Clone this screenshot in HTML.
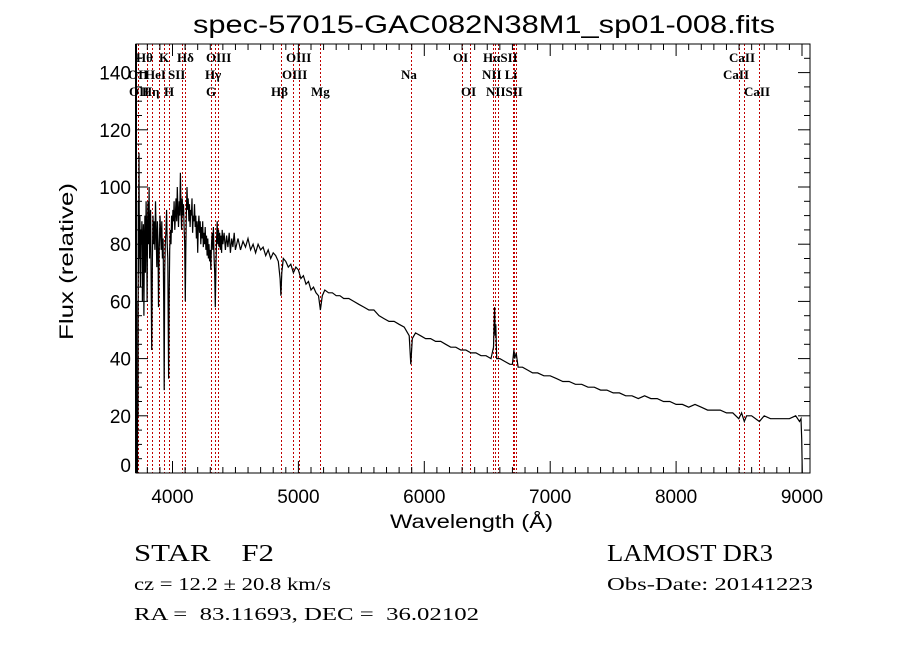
<!DOCTYPE html>
<html><head><meta charset="utf-8"><style>
html,body{margin:0;padding:0;background:#fff;}
svg{display:block;}
.ax{font-family:"Liberation Sans",sans-serif;font-size:19px;fill:#000;}
.ln{font-family:"Liberation Serif",serif;font-size:13px;font-weight:bold;fill:#000;}
.bt{font-family:"Liberation Serif",serif;fill:#000;white-space:pre;}
</style></head><body>
<svg id="chart" width="900" height="649" viewBox="0 0 900 649" xmlns="http://www.w3.org/2000/svg" xml:space="preserve">
<rect width="900" height="649" fill="#fff"/>
<text x="193" y="33" class="ax" style="font-size:25px" textLength="582" lengthAdjust="spacingAndGlyphs">spec-57015-GAC082N38M1_sp01-008.fits</text>
<g id="lines"></g>
<g id="labels"></g>
<g id="axes"></g>
<path id="spec" fill="none" stroke="#000" stroke-width="1.2"/>
<rect x="136" y="44" width="674" height="429" fill="none" stroke="#000" stroke-width="1"/>
<line x1="136" y1="44" x2="136" y2="473" stroke="#000" stroke-width="2"/>
<text x="390" y="528" class="ax" textLength="163" lengthAdjust="spacingAndGlyphs">Wavelength (Å)</text>
<text x="0" y="0" transform="translate(73,340) rotate(-90)" class="ax" textLength="157" lengthAdjust="spacingAndGlyphs">Flux (relative)</text>
<text x="134" y="561" class="bt" style="font-size:24px" textLength="140" lengthAdjust="spacingAndGlyphs">STAR    F2</text>
<text x="134" y="590" class="bt" style="font-size:18px" textLength="197" lengthAdjust="spacingAndGlyphs">cz = 12.2 ± 20.8 km/s</text>
<text x="134" y="620" class="bt" style="font-size:18px" textLength="345" lengthAdjust="spacingAndGlyphs">RA =  83.11693, DEC =  36.02102</text>
<text x="607" y="561" class="bt" style="font-size:24px" textLength="166" lengthAdjust="spacingAndGlyphs">LAMOST DR3</text>
<text x="607" y="590" class="bt" style="font-size:18px" textLength="206" lengthAdjust="spacingAndGlyphs">Obs-Date: 20141223</text>
</svg>
<script>
const wave=[3722,3724,3726,3728,3731,3734,3737,3741,3745,3749,3753,3757,3761,3765,3769,3773,3777,3781,3785,3790,3794,3798,3802,3806,3810,3814,3818,3822,3826,3830,3835,3840,3845,3850,3855,3860,3865,3870,3875,3880,3885,3889,3893,3897,3901,3905,3910,3915,3920,3925,3930,3934,3938,3943,3948,3953,3958,3963,3969,3973,3978,3983,3988,3993,3998,4003,4008,4013,4018,4023,4028,4033,4038,4043,4048,4053,4058,4063,4068,4072,4077,4082,4087,4092,4097,4102,4106,4110,4115,4120,4125,4130,4135,4140,4145,4150,4155,4160,4165,4170,4175,4180,4185,4190,4195,4200,4205,4210,4215,4220,4225,4230,4235,4240,4245,4250,4255,4260,4265,4270,4275,4280,4285,4290,4295,4300,4304,4310,4315,4320,4325,4330,4335,4340,4345,4350,4355,4360,4365,4370,4375,4380,4385,4390,4395,4400,4410,4420,4430,4440,4450,4460,4470,4480,4490,4500,4520,4540,4560,4580,4600,4620,4640,4660,4680,4700,4720,4740,4760,4780,4800,4820,4840,4855,4861,4868,4880,4900,4920,4940,4960,4980,5000,5020,5040,5060,5080,5100,5120,5140,5160,5175,5190,5210,5240,5270,5300,5330,5360,5400,5440,5480,5520,5560,5600,5640,5680,5720,5760,5800,5840,5880,5893,5905,5930,5970,6010,6050,6090,6130,6170,6210,6250,6290,6330,6370,6410,6450,6490,6530,6550,6558,6563,6568,6575,6600,6640,6680,6700,6712,6718,6730,6745,6780,6820,6860,6900,6950,7000,7050,7100,7150,7200,7250,7300,7350,7400,7450,7500,7550,7600,7650,7700,7750,7800,7850,7900,7950,8000,8050,8100,8150,8200,8250,8300,8350,8400,8450,8498,8520,8542,8560,8600,8662,8700,8750,8800,8850,8900,8950,8980,8992,8998,9002];
const flux=[0,60,20,95,70,112,75,90,65,85,80,88,60,82,87,55,80,90,70,95,85,60,88,95,80,100,75,85,92,70,43,75,90,80,88,78,95,85,72,88,80,58,75,82,90,85,78,88,75,82,60,29,70,80,85,92,80,75,33,60,78,85,80,90,84,92,88,95,85,90,96,88,100,92,86,95,90,105,92,85,96,90,94,86,80,60,78,90,100,92,96,88,94,86,92,90,96,84,90,88,94,86,90,82,88,77,86,90,84,88,80,86,82,88,79,84,80,86,78,83,76,82,75,80,74,78,71,80,84,78,86,76,70,58,72,82,88,80,85,79,84,78,83,77,85,80,84,78,83,79,84,77,82,79,84,78,82,78,81,79,82,78,80,77,80,78,79,76,78,75,77,76,74,68,62,70,75,74,72,73,70,72,71,68,69,66,67,64,65,63,62,57,62,64,63,63,62,62,61,61,60,59,58,57,57,55,54,53,53,52,51,48,38,47,49,48,47,47,46,46,45,44,44,43,43,42,42,41,41,40,44,58,48,52,40,40,39,38,38,43,40,42,37,37,36,35,35,34,34,33,32,32,31,31,30,30,29,29,28,28,27,27,26,27,26,26,25,25,24,24,23,24,23,22,22,22,21,21,19,21,18,20,20,18,20,19,19,19,19,20,18,19,12,0];
const lineWaves=[3727,3798,3835,3889,3934,3969,4072,4102,4304,4340,4363,4861,4959,5007,5175,5893,6300,6364,6548,6563,6583,6708,6716,6731,8498,8542,8662];
const labelText=["Hθ","K","Hδ","OIII","OIII","OI","HαSII","CaII","OII","HeI","SII","Hγ","OIII","Na","NII Li","CaII","OII","Hη","H","G","Hβ","Mg","OI","NIISII","CaII"];
const labelX=[136,159,177,206,286,453,483,729,128,145,168,205,282,401,482,723,129,142,164,206,271,311,461,486,744];
const labelRow=[0,0,0,0,0,0,0,0,1,1,1,1,1,1,1,1,2,2,2,2,2,2,2,2,2];
const xTicks=[4000,5000,6000,7000,8000,9000];
const yTicks=[0,20,40,60,80,100,120,140];
const X0=136,X1=810,Y0=473,Y1=44;
const xs=l=>172.5+(l-4000)*0.1259;
const ys=f=>Y0-(f-0)*(Y0-Y1)/150;
const NS="http://www.w3.org/2000/svg";
function mk(t,a,p){const e=document.createElementNS(NS,t);for(const k in a)e.setAttribute(k,a[k]);p.appendChild(e);return e;}
let d="";const n=Math.min(wave.length,flux.length);
for(let i=0;i<n;i++){d+=(i?"L":"M")+xs(wave[i]).toFixed(1)+","+ys(flux[i]).toFixed(1);}
document.getElementById("spec").setAttribute("d",d);
const gl=document.getElementById("lines");
lineWaves.forEach((w,i)=>{const x=Math.round(xs(w))+0.5;const e=mk("line",{x1:x,x2:x,y1:Y1,y2:Y0,stroke:"#c00000","stroke-width":1,"stroke-dasharray":"2,2"},gl);

});
const gb=document.getElementById("labels");
labelText.forEach((t,i)=>{const e=mk("text",{x:labelX[i],y:62+labelRow[i]*17,class:"ln"},gb);e.textContent=t;

});
const ga=document.getElementById("axes");
for(let l=3800;l<=9000;l+=100){const maj=l%1000==0;const x=xs(l);
mk("line",{x1:x,x2:x,y1:Y0,y2:Y0-(maj?12:6),stroke:"#000"},ga);
mk("line",{x1:x,x2:x,y1:Y1,y2:Y1+(maj?12:6),stroke:"#000"},ga);}
xTicks.forEach(v=>{const e=mk("text",{x:xs(v),y:503,"text-anchor":"middle",class:"ax"},ga);e.textContent=v;

});
for(let v=0;v<=150;v+=5){const maj=v%20==0;const y=ys(v);
mk("line",{x1:X0,x2:X0+(maj?12:6),y1:y,y2:y,stroke:"#000"},ga);
mk("line",{x1:X1,x2:X1-(maj?12:6),y1:y,y2:y,stroke:"#000"},ga);}
yTicks.forEach(v=>{const e=mk("text",{x:131,y:(v==0?ys(v)-1:ys(v)+7),"text-anchor":"end",class:"ax"},ga);e.textContent=v;

});
</script>
</body></html>
